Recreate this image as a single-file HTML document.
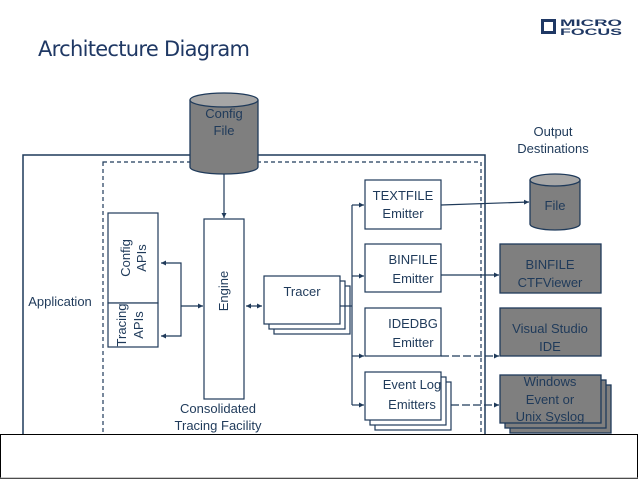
<!DOCTYPE html>
<html><head><meta charset="utf-8"><style>
body{margin:0;width:638px;height:479px;overflow:hidden;background:#fff}
svg{display:block}
text{font-family:"Liberation Sans",sans-serif;fill:#1f3a5a}
</style></head><body>
<svg width="638" height="479" viewBox="0 0 638 479">
<defs>
<marker id="a" markerWidth="6" markerHeight="6" refX="5" refY="3" orient="auto" markerUnits="userSpaceOnUse"><path d="M0,0.5 L5,3 L0,5.5z" fill="#1f3a5a"/></marker>
<marker id="b" markerWidth="6" markerHeight="6" refX="1" refY="3" orient="auto" markerUnits="userSpaceOnUse"><path d="M6,0.5 L1,3 L6,5.5z" fill="#1f3a5a"/></marker>
</defs>
<text x="38" y="56" font-size="21" style="fill:#1f3864;font-family:'DejaVu Sans',sans-serif" textLength="212">Architecture Diagram</text>
<rect x="541" y="19" width="15" height="15" fill="#1f3864"/><rect x="544" y="22" width="9" height="9" fill="#fff"/>
<text x="560" y="26" font-size="9" font-weight="bold" style="fill:#1f3864" textLength="62" lengthAdjust="spacingAndGlyphs">MICRO</text>
<text x="560" y="35" font-size="9" font-weight="bold" style="fill:#1f3864" textLength="62" lengthAdjust="spacingAndGlyphs">FOCUS</text>
<g stroke="#1f3a5a" fill="none" stroke-width="1.2">
<rect x="23" y="155" width="462" height="283" stroke-width="1.5"/>
<rect x="103" y="162" width="378" height="275" stroke-dasharray="4,3"/>
<rect x="108" y="213" width="50" height="90" fill="#fff"/>
<rect x="108" y="303" width="50" height="44" fill="#fff"/>
<rect x="204" y="219" width="40" height="180" fill="#fff"/>
<rect x="274" y="286" width="76" height="48" fill="#fff"/>
<rect x="269" y="281" width="76" height="48" fill="#fff"/>
<rect x="264" y="276" width="76" height="48" fill="#fff"/>
<rect x="365" y="180" width="76" height="49" fill="#fff"/>
<rect x="365" y="244" width="76" height="48" fill="#fff"/>
<rect x="365" y="308" width="76" height="48" fill="#fff"/>
<rect x="375" y="382" width="76" height="48" fill="#fff"/>
<rect x="370" y="377" width="76" height="48" fill="#fff"/>
<rect x="365" y="372" width="76" height="48" fill="#fff"/>
<line x1="224" y1="174" x2="224" y2="218" marker-end="url(#a)"/>
<polyline points="161,263 181,263 181,336 161,336" marker-start="url(#b)" marker-end="url(#a)"/>
<line x1="181" y1="306" x2="203" y2="306" marker-end="url(#a)"/>
<line x1="246" y1="306" x2="262" y2="306" marker-start="url(#b)" marker-end="url(#a)"/>
<line x1="340" y1="306" x2="352" y2="306"/>
<line x1="352" y1="205" x2="352" y2="405"/>
<line x1="352" y1="205" x2="364" y2="205" marker-end="url(#a)"/>
<line x1="352" y1="276" x2="364" y2="276" marker-end="url(#a)"/>
<line x1="352" y1="356" x2="364" y2="356" marker-end="url(#a)"/>
<line x1="352" y1="405" x2="364" y2="405" marker-end="url(#a)"/>
<line x1="441" y1="205" x2="529" y2="202" marker-end="url(#a)"/>
<line x1="441" y1="275" x2="499" y2="275" marker-end="url(#a)"/>
<line x1="441" y1="356" x2="499" y2="356" stroke-dasharray="8,3" marker-end="url(#a)"/>
<line x1="451" y1="405" x2="499" y2="405" stroke-dasharray="8,3" marker-end="url(#a)"/>
</g>
<g stroke="#1f3a5a" stroke-width="1.3" fill="#7f7f7f">
<path d="M190,100 v67 a34,7 0 0 0 68,0 v-67"/><ellipse cx="224" cy="100" rx="34" ry="7" fill="#a6a6a6"/>
<path d="M530,180 v44 a25,6 0 0 0 50,0 v-44"/><ellipse cx="555" cy="180" rx="25" ry="6" fill="#a6a6a6"/>
<rect x="500" y="244" width="101" height="49"/>
<rect x="500" y="308" width="101" height="48"/>
<rect x="510" y="385" width="101" height="48"/>
<rect x="505" y="380" width="101" height="48"/>
<rect x="500" y="375" width="101" height="48"/>
</g>
<g font-size="13" text-anchor="middle">
<text x="224" y="118">Config</text><text x="224" y="135">File</text>
<text x="553" y="136">Output</text><text x="553" y="153">Destinations</text>
<text x="555" y="210">File</text>
<text x="403" y="200">TEXTFILE</text><text x="403" y="218">Emitter</text>
<text x="413" y="264">BINFILE</text><text x="413" y="283">Emitter</text>
<text x="413" y="328">IDEDBG</text><text x="413" y="347">Emitter</text>
<text x="412" y="389">Event Log</text><text x="412" y="409">Emitters</text>
<text x="302" y="296">Tracer</text>
<text x="550" y="269">BINFILE</text><text x="550" y="287">CTFViewer</text>
<text x="550" y="333">Visual Studio</text><text x="550" y="351">IDE</text>
<text x="550" y="386">Windows</text><text x="550" y="404">Event or</text><text x="550" y="421">Unix Syslog</text>
<text x="218" y="413">Consolidated</text><text x="218" y="430">Tracing Facility</text>
<text x="60" y="306">Application</text>
<text transform="translate(228,291) rotate(-90)">Engine</text>
<text transform="translate(130,258) rotate(-90)">Config</text><text transform="translate(146,258) rotate(-90)">APIs</text>
<text transform="translate(126,325) rotate(-90)">Tracing</text><text transform="translate(143,325) rotate(-90)">APIs</text>
</g>
<rect x="0.5" y="434.5" width="637" height="44" fill="#fff" stroke="#000"/>
<line x1="0" y1="478" x2="638" y2="478" stroke="#999" stroke-width="1"/>
</svg>
</body></html>
